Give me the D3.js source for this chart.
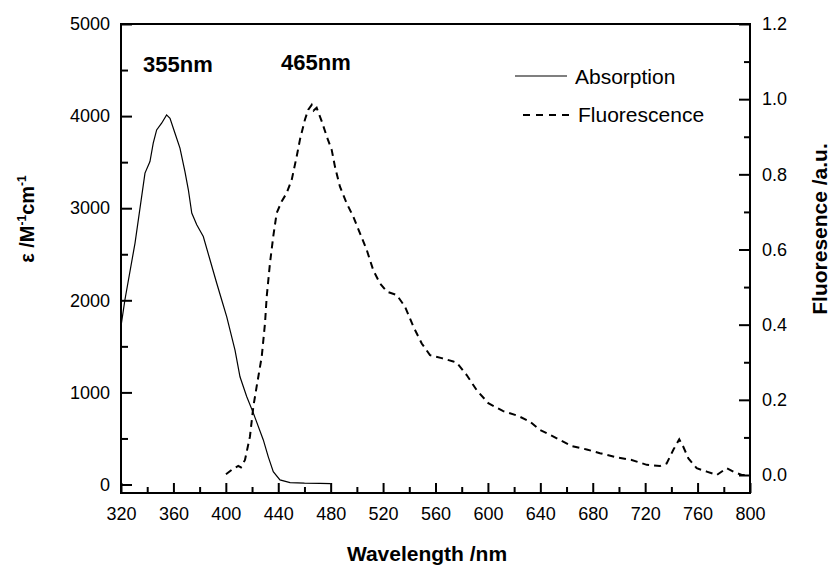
<!DOCTYPE html>
<html>
<head>
<meta charset="utf-8">
<script src="https://cdn.jsdelivr.net/npm/d3@7/dist/d3.min.js"></script>
<style>
  body { margin: 0; background: #fff; }
  svg { font-family: "Liberation Sans", Arial, sans-serif; }
  .tick text { font-size: 18px; fill: #000; }
</style>
</head>
<body>
<svg id="chart" width="837" height="567"></svg>
<script>
/** Absorption spectrum (left axis, M^-1 cm^-1) */
var absWave = [320, 323, 330.7, 338.3, 342.1, 344.6, 347.2, 351, 354.8, 357.4, 361.2, 365, 368.8, 371.4, 374,
               377.8, 382.8, 387.9, 393, 396.8, 400.7, 407, 410.8, 415.9, 421, 428.6, 432.4, 436.2, 441.3,
               449, 460, 471.9, 480];
var absValue = [1720, 2006, 2621, 3381, 3507, 3706, 3850, 3923, 4013, 3977, 3814, 3652, 3398, 3200, 2947,
                2820, 2693, 2440, 2188, 2006, 1820, 1460, 1170, 955, 775, 484, 300, 140, 50,
                20, 14, 12, 10];

/** Fluorescence spectrum (right axis, normalised) */
var fluWave = [400.1, 405, 409.5, 411.5, 414.6, 418.4, 421, 423.5, 427.4, 429.9, 431.2, 433.7, 436.2, 438.8,
               442.6, 446.4, 450.3, 454.1, 456.6, 460.4, 462.9, 465.5, 467, 469.3, 473.2, 477, 480.8, 483.3,
               487.1, 492.2, 497.3, 502.4, 507.5, 512.5, 517.6, 522.8, 530.4, 536.7, 543.1, 549.5, 555.8,
               564.7, 573.6, 576.2, 583.8, 591.4, 600.3, 611.7, 623.2, 632.1, 639.7, 647.4, 655, 663.9,
               675.4, 685.5, 698.3, 709.7, 721.2, 731.3, 736.4, 741.5, 746, 749.1, 753, 759.3, 767, 774.6,
               782.2, 787.3, 793.7, 798.8];
var fluValue = [0.002, 0.015, 0.024, 0.02, 0.04, 0.102, 0.182, 0.235, 0.315, 0.404, 0.475, 0.564, 0.635, 0.697,
                0.728, 0.75, 0.786, 0.848, 0.893, 0.946, 0.972, 0.985, 0.97, 0.977, 0.941, 0.901, 0.865, 0.82,
                0.767, 0.723, 0.687, 0.643, 0.599, 0.545, 0.51, 0.488, 0.479, 0.448, 0.395, 0.35, 0.319,
                0.311, 0.302, 0.299, 0.266, 0.226, 0.191, 0.17, 0.157, 0.142, 0.12, 0.107, 0.093, 0.077,
                0.068, 0.058, 0.047, 0.04, 0.027, 0.024, 0.031, 0.067, 0.095, 0.075, 0.044, 0.018, 0.009, 0.0,
                0.018, 0.009, 0.0, 0.0];

/** Axis ticks */
var xTicks = [320, 360, 400, 440, 480, 520, 560, 600, 640, 680, 720, 760, 800];
var xMinor = [340, 380, 420, 460, 500, 540, 580, 620, 660, 700, 740, 780];
var leftTicks = [0, 1000, 2000, 3000, 4000, 5000];
var leftMinor = [500, 1500, 2500, 3500, 4500];
var rightTicks = [0.0, 0.2, 0.4, 0.6, 0.8, 1.0, 1.2];
var rightMinor = [0.1, 0.3, 0.5, 0.7, 0.9, 1.1];

/** Peak labels */
var peakLabels = ['355nm', '465nm'];

var plotLeft = 121, plotRight = 750, plotTop = 24, plotBottom = 493;

var svg = d3.select('#chart');

var xScale = d3.scaleLinear().domain([320, 800]).range([plotLeft, plotRight]);
var yLeft = d3.scaleLinear().domain([0, 5000]).range([484.5, plotTop]);
var yRight = d3.scaleLinear().domain([0, 1.2]).range([475, plotTop]);

function styleAxis(g) {
    g.select('.domain').remove();
    g.selectAll('.tick line').attr('stroke', '#000').attr('stroke-width', 2);
    g.selectAll('.tick text').attr('fill', '#000');
}

// minor ticks (no labels)
svg.append('g')
    .attr('transform', 'translate(0,' + plotBottom + ')')
    .call(d3.axisBottom(xScale).tickValues(xMinor).tickSize(-6).tickFormat(''))
    .call(styleAxis);
svg.append('g')
    .attr('transform', 'translate(' + plotLeft + ',0)')
    .call(d3.axisLeft(yLeft).tickValues(leftMinor).tickSize(-7).tickFormat(''))
    .call(styleAxis);
svg.append('g')
    .attr('transform', 'translate(' + plotRight + ',0)')
    .call(d3.axisRight(yRight).tickValues(rightMinor).tickSize(-6).tickFormat(''))
    .call(styleAxis);

// major ticks
svg.append('g')
    .attr('transform', 'translate(0,' + plotBottom + ')')
    .call(d3.axisBottom(xScale).tickValues(xTicks).tickSizeInner(-10).tickSizeOuter(0).tickPadding(14))
    .call(styleAxis);
svg.append('g')
    .attr('transform', 'translate(' + plotLeft + ',0)')
    .call(d3.axisLeft(yLeft).tickValues(leftTicks).tickSizeInner(-11).tickSizeOuter(0).tickPadding(11)
        .tickFormat(d3.format('d')))
    .call(styleAxis);
svg.append('g')
    .attr('transform', 'translate(' + plotRight + ',0)')
    .call(d3.axisRight(yRight).tickValues(rightTicks).tickSizeInner(-11).tickSizeOuter(0).tickPadding(12)
        .tickFormat(d3.format('.1f')))
    .call(styleAxis);

// frame
svg.append('rect')
    .attr('x', plotLeft).attr('y', plotTop)
    .attr('width', plotRight - plotLeft).attr('height', plotBottom - plotTop)
    .attr('fill', 'none').attr('stroke', '#000').attr('stroke-width', 2);

// curves
var absLine = d3.line()
    .x(function (d, i) { return xScale(absWave[i]); })
    .y(function (d) { return yLeft(d); });
var fluLine = d3.line()
    .x(function (d, i) { return xScale(fluWave[i]); })
    .y(function (d) { return yRight(d); });

svg.append('path')
    .attr('d', absLine(absValue))
    .attr('fill', 'none').attr('stroke', '#000').attr('stroke-width', 1.2);
svg.append('path')
    .attr('d', fluLine(fluValue))
    .attr('fill', 'none').attr('stroke', '#000').attr('stroke-width', 2)
    .attr('stroke-dasharray', '7,5');

// peak labels
svg.append('text').attr('x', 143).attr('y', 72)
    .style('font-size', '22px').style('font-weight', 'bold').text(peakLabels[0]);
svg.append('text').attr('x', 281).attr('y', 69.5)
    .style('font-size', '22px').style('font-weight', 'bold').text(peakLabels[1]);

// legend
svg.append('line').attr('x1', 515).attr('x2', 567).attr('y1', 76).attr('y2', 76)
    .attr('stroke', '#000').attr('stroke-width', 1.2);
svg.append('text').attr('x', 575).attr('y', 83.5)
    .style('font-size', '21px').text('Absorption');
svg.append('line').attr('x1', 523).attr('x2', 574).attr('y1', 115).attr('y2', 115)
    .attr('stroke', '#000').attr('stroke-width', 2).attr('stroke-dasharray', '7,6');
svg.append('text').attr('x', 578).attr('y', 122)
    .style('font-size', '21px').text('Fluorescence');

// axis titles
svg.append('text')
    .attr('x', 427).attr('y', 561)
    .attr('text-anchor', 'middle')
    .style('font-size', '21px').style('font-weight', 'bold')
    .text('Wavelength /nm');

var yTitle = svg.append('text')
    .attr('transform', 'translate(34,219) rotate(-90)')
    .attr('text-anchor', 'middle')
    .style('font-size', '20px').style('font-weight', 'bold');
yTitle.append('tspan').text('\u03b5 /M');
yTitle.append('tspan').attr('dy', -8).style('font-size', '12px').text('-1');
yTitle.append('tspan').attr('dy', 8).text('cm');
yTitle.append('tspan').attr('dy', -8).style('font-size', '12px').text('-1');

svg.append('text')
    .attr('transform', 'translate(827,229) rotate(-90)')
    .attr('text-anchor', 'middle')
    .style('font-size', '21px').style('font-weight', 'bold')
    .text('Fluoresence /a.u.');
</script>
</body>
</html>
